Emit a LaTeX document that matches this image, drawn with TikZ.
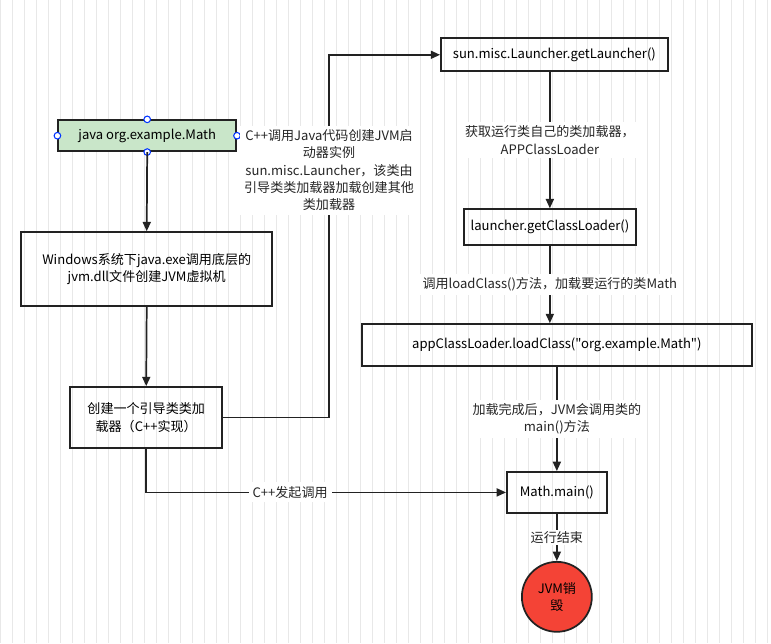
\documentclass[tikz,border=0pt]{standalone}
\usepackage{fontspec}
\setmainfont{Noto Sans CJK SC}[Ligatures=TeXOff]
\usetikzlibrary{arrows.meta}
\definecolor{gr}{HTML}{E8E8E8}
\definecolor{lg}{HTML}{C9E6C9}
\definecolor{rd}{HTML}{F44336}
\definecolor{ln}{HTML}{222222}
\begin{document}
\begin{tikzpicture}[x=0.75pt,y=-0.75pt,font=\fontsize{9.8}{13}\selectfont,
  box/.style 2 args={draw=ln,line width=1.3pt,minimum height=#1*0.75pt,minimum width=#2*0.75pt,align=center,inner sep=2pt},
  arr/.style={draw=ln,line width=1.3pt,-{Triangle[length=7pt,width=6pt]}},
  lab/.style={fill=white,align=center,inner sep=3pt,text=black!85}]
\fill[white] (0,0) rectangle (771,643);
\draw[gr,line width=0.5pt,step=12] (0,0) grid (771,643);
\useasboundingbox (0,0) rectangle (771,643);
\node[box={31}{178},fill=lg] (a) at (147,135.5) {java org.example.Math};
\node[box={74}{251}] (b) at (146.5,269) {Windows系统下java.exe调用底层的\\jvm.dll文件创建JVM虚拟机};
\node[box={61}{152}] (c) at (146,417.5) {创建一个引导类类加\\载器（C++实现）};
\node[box={33}{227}] (d) at (554.5,54.5) {sun.misc.Launcher.getLauncher()};
\node[box={36}{172}] (e) at (550,227) {launcher.getClassLoader()};
\node[box={42}{390}] (f) at (557,345) {appClassLoader.loadClass("org.example.Math")};
\node[box={41}{100}] (g) at (557,492.5) {Math.main()};
\node[draw=ln,line width=1.3pt,fill=rd,circle,minimum size=52.5pt,align=center,inner sep=0pt] (h) at (557,597) {JVM销\\毁};
\foreach \p in {north,south,west,east}
  \draw[blue!80!cyan,fill=white,line width=0.8pt] (a.\p) circle (3.3);
\draw[arr] (a.south) -- (b.north);
\draw[arr] (b.south) -- (c.north);
\coordinate (k1) at (329,417.5);
\draw[arr] (c.east) -- (k1) |- (d.west);
\node[lab] (t1) at (329,170) {C++调用Java代码创建JVM启\\动器实例\\sun.misc.Launcher，该类由\\引导类类加载器加载创建其他\\类加载器};
\draw[arr] (d.south-|e.north) -- (e.north) node[lab,midway] {获取运行类自己的类加载器，\\APPClassLoader};
\draw[arr] (e.south) -- (e.south|-f.north) node[lab,midway] {调用loadClass()方法，加载要运行的类Math};
\draw[arr] (f.south) -- (g.north) node[lab,pos=0.5] {加载完成后，JVM会调用类的\\main()方法};
\draw[arr] (c.south) |- (g.west) node[lab,pos=0.7] {C++发起调用};
\draw[arr] (g.south) -- (h.north) node[lab,pos=0.5,inner sep=1pt] {运行结束};
\end{tikzpicture}
\end{document}
